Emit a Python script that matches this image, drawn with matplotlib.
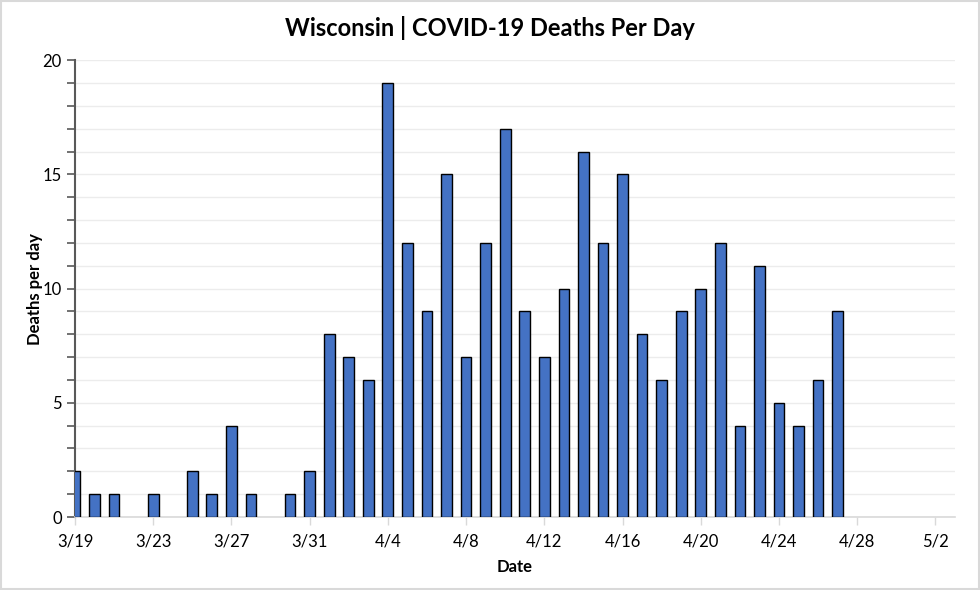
import matplotlib
matplotlib.use("Agg")
import matplotlib.pyplot as plt
from matplotlib.patches import Rectangle
import numpy as np

plt.rcParams['font.family'] = ['Lato', 'DejaVu Sans']

# Day offsets from 3/19 and deaths per day
day_offsets = [0, 1, 2, 4, 6, 7, 8, 9, 11, 12, 13, 14, 15, 16, 17, 18, 19, 20, 21,
               22, 23, 24, 25, 26, 27, 28, 29, 30, 31, 32, 33, 34, 35, 36, 37, 38, 39]
deaths = [2, 1, 1, 1, 2, 1, 4, 1, 1, 2, 8, 7, 6, 19, 12, 9, 15, 7, 12,
          17, 9, 7, 10, 16, 12, 15, 8, 6, 9, 10, 12, 4, 11, 5, 4, 6, 9]
tick_positions = [0, 4, 8, 12, 16, 20, 24, 28, 32, 36, 40, 44]
tick_labels = ['3/19', '3/23', '3/27', '3/31', '4/4', '4/8', '4/12', '4/16',
               '4/20', '4/24', '4/28', '5/2']

fig = plt.figure(figsize=(9.8, 5.9), dpi=100)
ax = fig.add_axes([0.0765, 0.1237, 0.898, 0.7743])

ax.bar(day_offsets, deaths, width=0.55, color='#4472C4', edgecolor='black',
       linewidth=1.0, zorder=3)

ax.set_xlim(0, 45)
ax.set_ylim(0, 20)
ax.set_xticks(tick_positions)
ax.set_xticklabels(tick_labels, fontsize=12)
ax.set_yticks([0, 5, 10, 15, 20])
ax.set_yticks(np.arange(0, 21, 1), minor=True)
ax.tick_params(axis='y', which='major', labelsize=12, length=6, color='#595959', width=1.2)
ax.tick_params(axis='y', which='minor', length=6, color='#595959', width=1.2)
ax.tick_params(axis='x', length=6, color='#d9d9d9', width=1, labelsize=12, pad=6)
ax.grid(axis='y', which='both', color='#ececec', linewidth=1, zorder=0)
ax.set_axisbelow(True)

for s in ['top', 'right']:
    ax.spines[s].set_visible(False)
ax.spines['left'].set_color('#595959')
ax.spines['left'].set_linewidth(1.5)
ax.spines['bottom'].set_color('#d9d9d9')
ax.spines['bottom'].set_linewidth(1.2)

ax.set_xlabel('Date', fontsize=12, fontweight='bold', labelpad=7)
ax.set_ylabel('Deaths per day', fontsize=12, fontweight='bold', labelpad=0)
fig.text(0.5, 0.952, 'Wisconsin | COVID-19 Deaths Per Day', ha='center', va='center',
         fontsize=17, fontweight='bold')

fig.patches.append(Rectangle((0.001, 0.001), 0.998, 0.998, transform=fig.transFigure,
                             fill=False, edgecolor='#d9d9d9', linewidth=1.5))

fig.savefig('out.png', dpi=100)
